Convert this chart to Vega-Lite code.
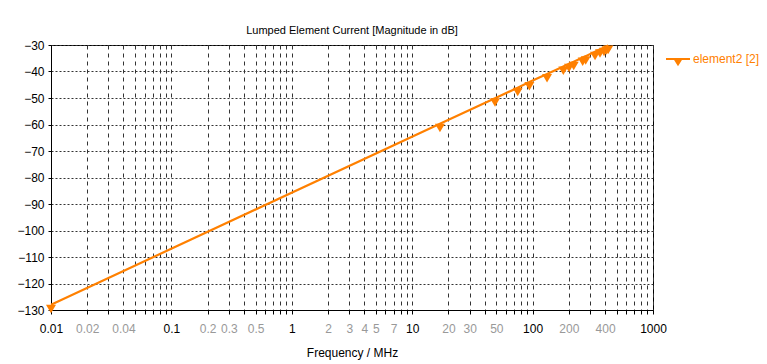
{
  "$schema": "https://vega.github.io/schema/vega-lite/v6.json",
  "width": 602,
  "height": 265,
  "autosize": {"type": "none"},
  "padding": {"left": 51, "top": 45, "right": 114, "bottom": 54},
  "background": "white",
  "title": {
    "text": "Lumped Element Current [Magnitude in dB]",
    "fontSize": 11,
    "fontWeight": "normal",
    "font": "Liberation Sans, sans-serif",
    "color": "black",
    "anchor": "middle",
    "offset": 3
  },
  "config": {
    "view": {"stroke": "black", "strokeWidth": 1},
    "axis": {
      "labelFont": "Liberation Sans, sans-serif",
      "titleFont": "Liberation Sans, sans-serif",
      "labelFontSize": 12,
      "titleFontSize": 12,
      "titleFontWeight": "normal",
      "domainColor": "black",
      "tickColor": "black",
      "gridColor": "#333333",
      "gridOpacity": 1,
      "labelColor": "black",
      "titleColor": "black"
    }
  },
  "data": {
    "values": [
      {"freq": 0.01, "mag": -128.0, "series": "element2 [2]"},
      {"freq": 17, "mag": -59.7, "series": "element2 [2]"},
      {"freq": 48.7, "mag": -50.1, "series": "element2 [2]"},
      {"freq": 75.2, "mag": -46.1, "series": "element2 [2]"},
      {"freq": 94, "mag": -44.0, "series": "element2 [2]"},
      {"freq": 131.8, "mag": -40.9, "series": "element2 [2]"},
      {"freq": 180, "mag": -38.1, "series": "element2 [2]"},
      {"freq": 200.6, "mag": -37.1, "series": "element2 [2]"},
      {"freq": 219.5, "mag": -36.3, "series": "element2 [2]"},
      {"freq": 260.6, "mag": -34.7, "series": "element2 [2]"},
      {"freq": 276, "mag": -34.2, "series": "element2 [2]"},
      {"freq": 330, "mag": -32.5, "series": "element2 [2]"},
      {"freq": 363, "mag": -31.6, "series": "element2 [2]"},
      {"freq": 392, "mag": -31.0, "series": "element2 [2]"},
      {"freq": 412, "mag": -30.5, "series": "element2 [2]"},
      {"freq": 425, "mag": -30.2, "series": "element2 [2]"}
    ]
  },
  "encoding": {
    "x": {
      "field": "freq",
      "type": "quantitative",
      "scale": {"type": "log", "domain": [0.01, 1000], "nice": false},
      "axis": {
        "title": "Frequency / MHz",
        "values": [0.01, 0.02, 0.03, 0.04, 0.05, 0.06, 0.07, 0.08, 0.09, 0.1, 0.2, 0.3, 0.4, 0.5, 0.6, 0.7, 0.8, 0.9, 1, 2, 3, 4, 5, 6, 7, 8, 9, 10, 20, 30, 40, 50, 60, 70, 80, 90, 100, 200, 300, 400, 500, 600, 700, 800, 900, 1000],
        "format": "~g",
        "labelExpr": "indexof([0.01,0.02,0.04,0.1,0.2,0.3,0.5,1,2,3,4,5,7,10,20,30,50,100,200,400,1000], datum.value) >= 0 ? datum.label : ''",
        "labelColor": {"condition": {"test": "indexof([0.01,0.1,1,10,100,1000], datum.value) >= 0", "value": "black"}, "value": "#999999"},
        "labelOverlap": false,
        "labelFlush": false,
        "tickSize": 4,
        "labelPadding": 9,
        "titlePadding": 13,
        "gridDash": [4, 4]
      }
    },
    "y": {
      "field": "mag",
      "type": "quantitative",
      "scale": {"domain": [-130, -30], "nice": false},
      "axis": {
        "title": null,
        "values": [-130, -120, -110, -100, -90, -80, -70, -60, -50, -40, -30],
        "tickSize": 3,
        "labelPadding": 4,
        "gridDash": [2, 2]
      }
    }
  },
  "layer": [
    {
      "mark": {"type": "line", "strokeWidth": 2.2, "color": "#FF8000"}
    },
    {
      "mark": {"type": "point", "shape": "M-1,0L1,0L0,1.7Z", "filled": true, "size": 100, "opacity": 1},
      "encoding": {
        "color": {
          "field": "series",
          "type": "nominal",
          "scale": {"range": ["#FF8000"]},
          "legend": {
            "title": null,
            "orient": "none",
            "legendX": 614,
            "legendY": 1,
            "symbolType": "M-1,-0.08L1,-0.08L1,0.08L-1,0.08Z M-0.38,0L0.38,0L0,0.6Z",
            "symbolSize": 576,
            "labelColor": "#FF8000",
            "labelFontSize": 12,
            "labelFont": "Liberation Sans, sans-serif",
            "labelOffset": 2,
            "encode": {
              "symbols": {
                "update": {
                  "stroke": {"value": "transparent"},
                  "fill": {"value": "#FF8000"},
                  "opacity": {"value": 1}
                }
              }
            }
          }
        }
      }
    }
  ]
}
